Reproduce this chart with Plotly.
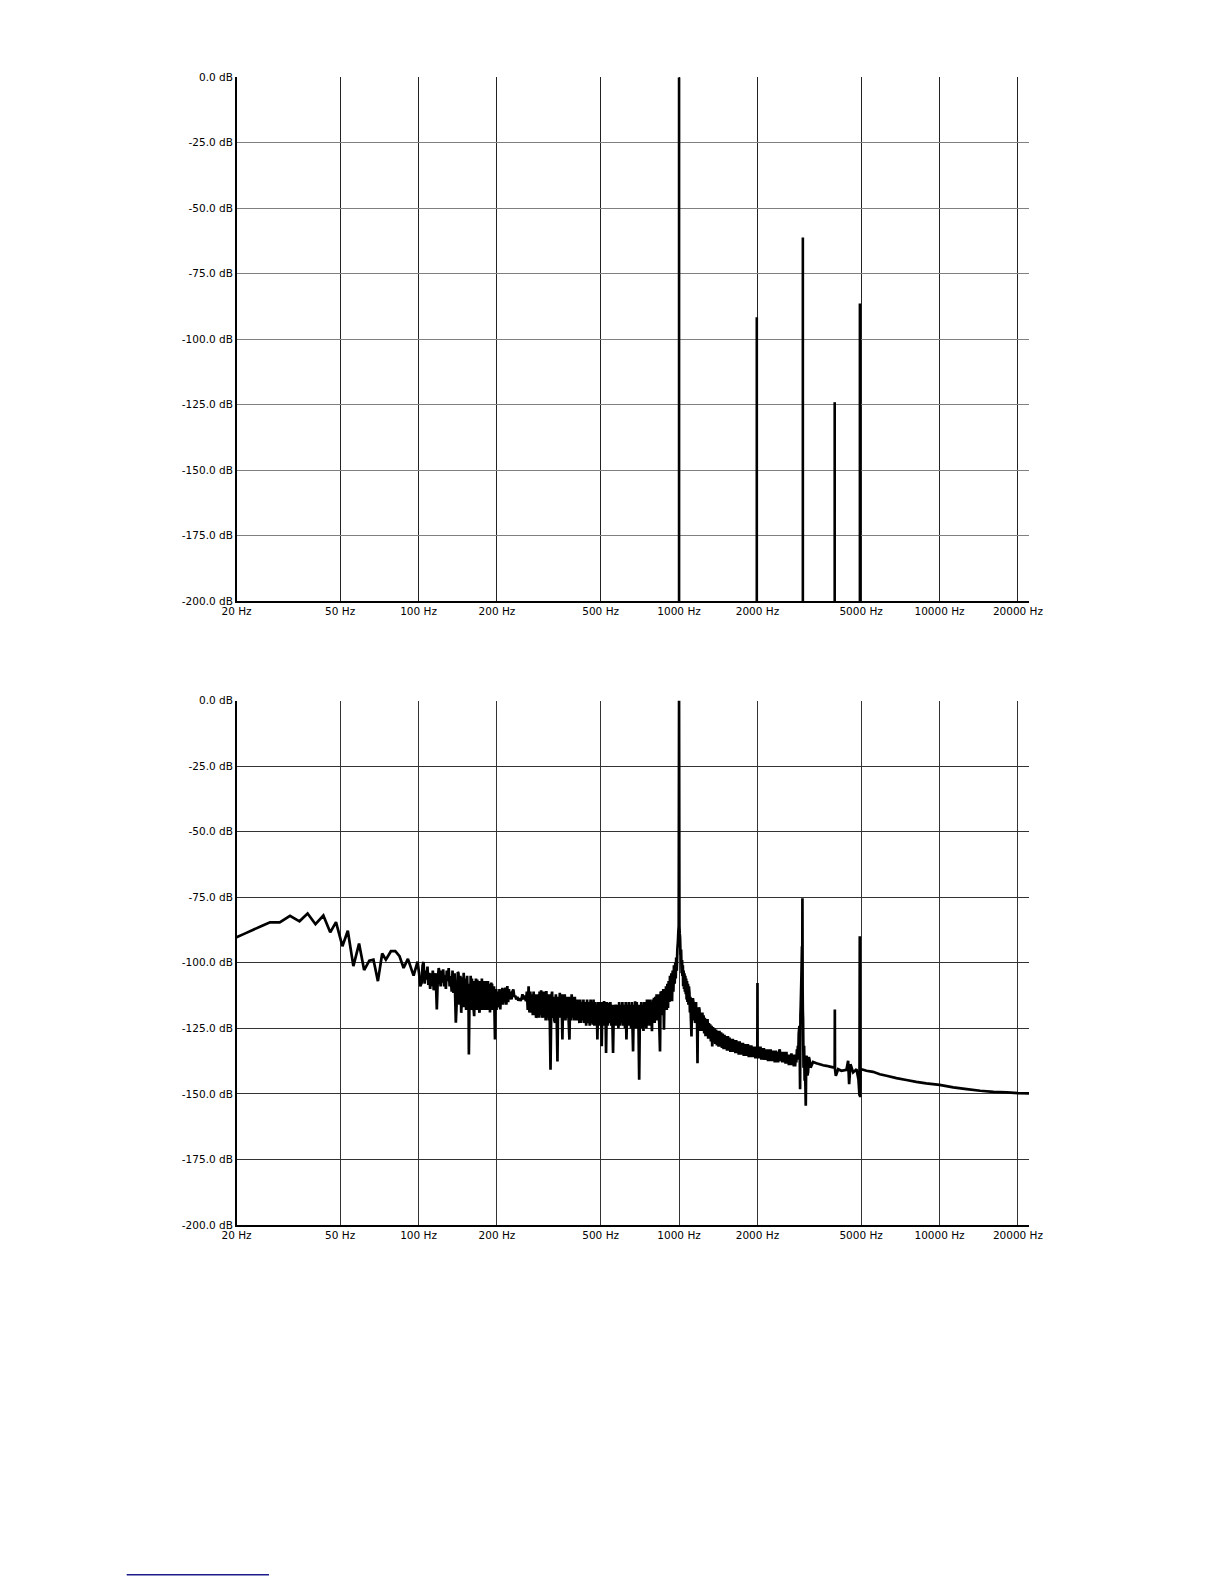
import plotly.graph_objects as go

# ---------------- data ----------------
x_tickvals = [20, 50, 100, 200, 500, 1000, 2000, 5000, 10000, 20000, 22050]
x_ticktext = ["20 Hz", "50 Hz", "100 Hz", "200 Hz", "500 Hz", "1000 Hz", "2000 Hz",
              "5000 Hz", "10000 Hz", "20000 Hz", ""]
y_tickvals = [0, -25, -50, -75, -100, -125, -150, -175, -200]
y_ticktext = ["0.0 dB", "-25.0 dB", "-50.0 dB", "-75.0 dB", "-100.0 dB", "-125.0 dB",
              "-150.0 dB", "-175.0 dB", "-200.0 dB"]

# top chart: harmonic spikes (floor at -200 dB)
top_freq = [1000, 1988, 2987, 3958, 4946]
top_db = [0.0, -91.6, -61.1, -124.0, -86.3]
floor_db = -200.0

low_band = [  # 20 - 100 Hz
    (20.0, -90.3), (21.5, -88.9), (23.2, -87.4), (25.1, -85.9), (26.9, -84.6),
    (29.3, -84.6), (32.1, -82.1), (34.9, -84.2), (37.5, -81.2), (40.2, -85.3),
    (43.1, -82.0), (45.8, -88.4), (48.2, -84.5), (51.0, -93.7), (53.5, -87.8),
    (56.2, -101.3), (59.1, -92.7), (61.8, -102.8), (64.7, -99.2), (67.1, -98.8),
    (69.8, -107.0), (72.5, -96.5), (74.9, -98.8), (78.3, -95.6), (81.4, -95.6),
    (84.5, -97.5), (87.6, -102.0), (91.0, -98.5), (95.7, -104.9), (99.1, -99.6),
]
band_100_200 = [
    (100.4, -103.8), (101.5, -109), (102.8, -107.6), (103.6, -101), (104.5, -99.7),
    (105.5, -108), (106.3, -103), (107.2, -106.4), (108.2, -101.5), (109.0, -108.5),
    (109.8, -103.8), (110.8, -110), (111.6, -104), (112.5, -108.9), (113.4, -103),
    (114.3, -110.5), (115.2, -107.4), (116.3, -104), (117.5, -117.8), (118.5, -106),
    (119.5, -102), (120.5, -104.1), (121.5, -109), (122.4, -103), (123.4, -107.6),
    (124.3, -102.5), (125.3, -109), (126.3, -104.8), (127.3, -110), (128.3, -103),
    (129.4, -107.0), (130.5, -102), (131.6, -109), (132.9, -105.1), (134.0, -111),
    (135.0, -103), (136.1, -111.5), (137.5, -104), (139.0, -122.9), (140.5, -112),
    (141.5, -103.5), (142.3, -104), (143.5, -116), (144.7, -105), (145.8, -119.1),
    (147.3, -105.5), (148.2, -117), (149.0, -103.8), (150.5, -117), (151.3, -106),
    (152.2, -118), (153.6, -105), (154.8, -116), (155.4, -108), (156.0, -135.0),
    (157.0, -110), (157.7, -118), (158.5, -105), (159.5, -117), (160.3, -106),
    (161.0, -118), (161.8, -107), (162.5, -117), (163.5, -120.4), (164.3, -107),
    (165.0, -118), (166.0, -106), (167.1, -117), (168.0, -106.4), (168.7, -118),
    (169.4, -107), (170.2, -116), (171.4, -119.1), (172.1, -108), (172.8, -117),
    (173.5, -107), (174.3, -118), (175.0, -106), (175.8, -117), (176.5, -107),
    (177.3, -118), (178.0, -108), (178.6, -116), (179.2, -107), (179.8, -118),
    (180.5, -108), (181.2, -117), (181.9, -107), (182.5, -118), (183.2, -108),
    (183.9, -117), (184.7, -107), (185.5, -118), (186.2, -108), (186.8, -117),
    (187.4, -108), (188.0, -119), (188.7, -108), (189.5, -117), (190.2, -107.5),
    (190.8, -118), (191.5, -108), (192.2, -117), (193.0, -109), (194.0, -118),
    (194.8, -109), (195.5, -117), (196.5, -129.3), (197.3, -110), (198.0, -118),
    (198.6, -110), (199.2, -118), (200.0, -111), (200.8, -117),
]
band_200_540 = [
    (201.8, -111.5), (203.5, -116), (204.5, -110), (205.9, -117.8), (207.5, -111),
    (208.5, -116), (209.8, -109.6), (211.5, -116), (212.8, -110), (214.0, -115),
    (215.5, -109.5), (217.3, -116), (219.1, -108.9), (220.8, -115), (222.2, -110),
    (223.7, -114), (225.5, -111), (227.5, -114), (229.2, -111), (231.1, -110.2),
    (233.0, -113), (235.0, -112.5), (237.2, -114.0), (239.5, -113), (241.5, -114.5),
    (244.0, -113.5), (246.0, -114.5), (248.4, -113.8), (250.5, -112), (252.5, -114),
    (255.0, -112.5), (258.4, -114.6), (260.5, -111), (262.5, -118), (264.5, -109),
    (266.5, -119), (268.5, -111), (270.5, -119), (272.5, -112), (274.5, -120),
    (276.5, -111), (278.5, -120), (280.5, -112), (282.5, -121), (285.9, -119.7),
    (287.5, -112), (289.5, -121), (291.5, -111), (293.5, -120), (295.5, -110.5),
    (297.5, -121), (299.5, -117.8), (301.5, -111), (303.5, -121), (305.5, -111),
    (307.5, -122), (309.5, -110.8), (311.5, -121), (313.5, -112), (315.6, -122),
    (318.0, -112), (321.0, -140.8), (323.5, -113), (325.5, -111), (327.5, -121),
    (330.0, -113), (332.0, -122), (334.3, -122.9), (336.5, -112), (339.0, -121),
    (341.3, -137.6), (343.5, -113), (346.0, -121), (348.5, -111.5), (351.0, -121),
    (353.5, -112), (356.6, -129.3), (359.0, -112), (361.5, -121), (364.0, -112),
    (366.5, -122), (369.0, -113), (371.5, -121), (374.0, -113), (376.8, -122),
    (379.4, -129.3), (382.0, -113), (384.5, -122), (387.0, -112), (390.0, -121),
    (392.5, -113), (395.0, -122), (398.0, -113), (401.0, -122), (404.3, -114),
    (407.5, -122), (410.5, -114), (414.3, -123), (417.5, -114), (420.5, -123),
    (423.5, -115), (426.5, -122), (429.5, -114), (432.6, -123), (436.0, -115),
    (440.0, -124), (443.5, -114), (447.0, -123), (450.5, -115), (454.0, -124),
    (457.5, -114), (461.0, -123), (464.0, -115), (466.1, -123.6), (469.5, -114),
    (473.0, -124), (476.5, -115), (480.0, -123), (483.0, -116), (485.8, -129.3),
    (489.0, -115), (492.5, -124), (496.0, -115), (499.5, -123), (502.0, -116),
    (504.8, -131.8), (508.0, -115), (511.5, -124), (515.4, -114.6), (518.5, -123),
    (521.5, -115), (524.5, -134.4), (528.0, -115), (531.5, -124), (534.9, -115.3),
    (538.0, -123),
]
band_540_1100 = [  # fundamental at 1 kHz
    (541, -121.7), (545, -115), (549, -124), (553, -116), (558, -134.4), (562, -116),
    (567, -124), (572, -115.9), (577, -124), (581, -116), (585, -125), (589, -115),
    (594, -124), (598, -116), (601, -123), (606, -115), (610, -124), (615, -116),
    (620, -125), (624, -115), (628, -129.3), (633, -116), (637, -124), (641, -115),
    (645, -124), (649, -116), (654, -125), (659, -115), (666, -133.8), (670, -116),
    (674, -124), (678, -114.7), (684, -125), (688, -115), (691, -123.0), (697, -116),
    (703, -144.6), (708, -116), (712, -125), (716, -115), (721, -124), (726, -116),
    (730, -126), (735, -115), (740, -124), (745, -116), (749, -125), (753, -114),
    (757, -124), (762, -115), (767, -123), (771, -114), (776, -124), (780, -115),
    (787, -126.1), (791, -114), (796, -123), (801, -113.4), (806, -123), (811, -113),
    (815, -122), (820, -112), (826, -122), (832, -112), (838, -121), (845, -133.8),
    (850, -111), (855, -120), (859, -110.8), (865, -120), (870, -110), (875, -125.5),
    (880, -110), (886, -118), (891, -109), (897, -118), (902, -108), (907, -117.2),
    (912, -107), (918, -115), (923, -105), (929, -114), (934, -104), (940, -114.7),
    (945, -103), (951, -111), (956, -101), (962, -108), (967, -100), (971, -106),
    (975, -98), (980, -103), (985, -95), (990, -92), (994, -88), (997, -86),
    (1000, 0.0), (1003, -86), (1006, -89), (1009, -90.5), (1013, -97), (1018, -95),
    (1023, -104), (1027, -99), (1030, -105), (1034, -101), (1037, -109), (1041, -103),
    (1045, -110), (1049, -104), (1053, -111), (1057, -105), (1061, -112), (1065, -106),
    (1069, -114), (1073, -107), (1077, -115), (1082, -108), (1086, -116), (1091, -109),
]
band_1100_2430 = [
    (1096, -111.5), (1101, -119), (1105, -113), (1110, -121), (1116, -128.1),
    (1121, -114), (1125, -120), (1130, -113.5), (1136, -115.3), (1141, -122),
    (1146, -116), (1152, -123), (1157, -120.4), (1162, -115), (1166, -123), (1171, -117),
    (1177, -138.3), (1182, -118), (1187, -124), (1193, -117), (1198, -117.9),
    (1204, -126), (1210, -119), (1216, -126), (1223, -124.2), (1229, -119), (1236, -126),
    (1242, -120), (1249, -127), (1256, -121), (1264, -128), (1271, -122), (1279, -126.8),
    (1286, -121.5), (1294, -129), (1302, -123), (1310, -129), (1317, -123.5),
    (1325, -130), (1333, -124), (1341, -131.9), (1350, -124.5), (1359, -130),
    (1368, -125), (1377, -131), (1387, -125.5), (1397, -131.5), (1407, -126),
    (1418, -132), (1429, -126), (1440, -132), (1450, -126.5), (1461, -132.5),
    (1472, -127), (1483, -133), (1494, -127.5), (1505, -133), (1516, -128),
    (1528, -133.5), (1540, -128), (1551, -133.5), (1562, -128.5), (1574, -134),
    (1586, -129), (1597, -134), (1609, -129), (1621, -134), (1633, -129.5),
    (1645, -134.5), (1657, -129.5), (1670, -134.5), (1682, -130), (1695, -135),
    (1708, -130), (1720, -135), (1733, -130.5), (1746, -135), (1759, -130.5),
    (1772, -135.5), (1785, -131), (1798, -135.5), (1811, -131), (1825, -135.5),
    (1838, -131), (1852, -136), (1866, -131.5), (1880, -136), (1894, -131.5),
    (1908, -136), (1922, -132), (1936, -136), (1950, -132), (1964, -136.5),
    (1978, -132), (1992, -136), (1998, -132), (2000, -107.7), (2002, -132),
    (2010, -136.5), (2024, -132), (2040, -136.5), (2054, -132), (2070, -137),
    (2085, -132.5), (2100, -137), (2116, -132.5), (2132, -137), (2148, -133),
    (2164, -137), (2180, -133), (2196, -137.5), (2213, -133), (2230, -137.5),
    (2246, -133), (2263, -137.5), (2280, -133.5), (2297, -137.5), (2313, -133.5),
    (2331, -138), (2350, -133.5), (2366, -138), (2383, -134), (2400, -138),
    (2418, -134),
]
high_band = [  # 2.4 kHz - 22 kHz
    (2435, -133.0), (2452, -137.5), (2470, -134), (2490, -138), (2508, -134),
    (2527, -138), (2545, -134), (2564, -138.5), (2583, -134), (2600, -138.5),
    (2620, -135), (2640, -139), (2660, -135), (2680, -139), (2700, -134.5),
    (2720, -139), (2740, -135), (2758, -139.5), (2775, -135), (2790, -139.5),
    (2806, -135), (2820, -138), (2835, -133), (2847, -137), (2858, -131.7),
    (2870, -135), (2880, -127), (2898, -124.1), (2907, -136), (2915, -148.2),
    (2924, -120), (2932, -116.5), (2950, -105), (2964, -93.7), (2971, -110),
    (2976, -75.4), (2981, -110), (2986, -118), (2993, -121.6), (3005, -140),
    (3020, -131.7), (3035, -145), (3047, -139.3), (3065, -154.5), (3078, -136),
    (3092, -135.5), (3110, -143), (3128, -141.8), (3150, -136), (3175, -137.4),
    (3200, -140), (3222, -139.3), (3270, -137.8), (3368, -138.3), (3469, -138.7),
    (3573, -139.1), (3681, -139.3), (3791, -139.6), (3905, -139.9), (3958, -140.0),
    (3963, -117.8), (3968, -140.5), (3998, -143.1), (4080, -140.6), (4201, -141.2),
    (4392, -140.8), (4457, -137.4), (4497, -146.3), (4550, -138.7), (4659, -141.8),
    (4798, -140.6), (4883, -144.4), (4927, -150.7), (4941, -89.9), (4956, -151.3),
    (4975, -141.0), (5000, -140.6), (5089, -140.8), (5240, -141.2), (5556, -141.6),
    (5897, -142.5), (6258, -143.1), (6831, -144.0), (7459, -144.7), (8142, -145.4),
    (8891, -146.0), (10000, -146.6), (11290, -147.5), (12714, -148.2),
    (14316, -148.8), (16118, -149.2), (18148, -149.4), (20000, -149.7),
    (22050, -149.8),
]

# ---------------- figure ----------------
W, H = 1224, 1584
x_dom = [236.5 / W, 1029.0 / W]
y_top_dom = [1 - 601.3 / H, 1 - 77.3 / H]
y_bot_dom = [1 - 1225.0 / H, 1 - 700.5 / H]

spike_x, spike_y = [], []
for f, d in zip(top_freq, top_db):
    spike_x += [f, f, None]
    spike_y += [floor_db, d, None]

bottom = low_band + band_100_200 + band_200_540 + band_540_1100 + band_1100_2430 + high_band
bot_freq = [p[0] for p in bottom]
bot_db = [p[1] for p in bottom]

fig = go.Figure()
fig.add_trace(go.Scatter(x=spike_x, y=spike_y, mode="lines",
                         line=dict(color="black", width=2.6),
                         xaxis="x", yaxis="y", showlegend=False, hoverinfo="skip"))
fig.add_trace(go.Scatter(x=bot_freq, y=bot_db, mode="lines",
                         line=dict(color="black", width=2.7, simplify=False),
                         xaxis="x2", yaxis="y2", showlegend=False, hoverinfo="skip"))

font = dict(family="DejaVu Sans, Verdana, sans-serif", size=10.5, color="black")

def xaxis(anchor, grid):
    return dict(type="log", domain=x_dom, anchor=anchor, automargin=False,
                range=[1.30103, 4.34341], tickvals=x_tickvals, ticktext=x_ticktext,
                showgrid=True, gridcolor=grid, gridwidth=1, zeroline=False,
                showline=True, linecolor="black", linewidth=1.5,
                ticks="", tickfont=font, fixedrange=True)

def yaxis(anchor, dom, grid):
    return dict(domain=dom, anchor=anchor, range=[-200, 0], automargin=False,
                tickvals=y_tickvals, ticktext=y_ticktext,
                showgrid=True, gridcolor=grid, gridwidth=1, zeroline=False,
                showline=True, linecolor="black", linewidth=1.5,
                ticks="", tickfont=font, fixedrange=True)

fig.update_layout(
    width=W, height=H, autosize=False,
    margin=dict(l=0, r=0, t=0, b=0, pad=0),
    paper_bgcolor="white", plot_bgcolor="white",
    xaxis=xaxis("y", "#222222"),
    yaxis=yaxis("x", y_top_dom, "#808080"),
    xaxis2=xaxis("y2", "#333333"),
    yaxis2=yaxis("x2", y_bot_dom, "#333333"),
    showlegend=False,
    shapes=[dict(type="line", xref="paper", yref="paper",
                 x0=126.7 / W, x1=269.0 / W, y0=1 - 1574.7 / H, y1=1 - 1574.7 / H,
                 line=dict(color="#1c1c8c", width=1.5))],
)

fig.write_html("out.html",
               config={"displayModeBar": False, "staticPlot": True},
               post_script="document.body.style.margin='0';"
                           "document.body.style.overflow='hidden';")
